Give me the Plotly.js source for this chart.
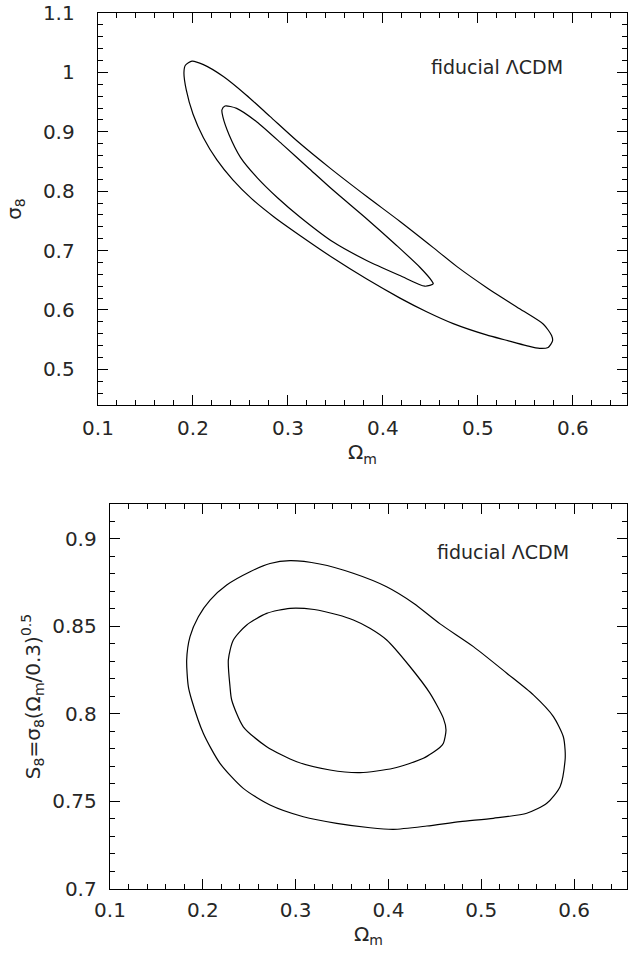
<!DOCTYPE html>
<html>
<head>
<meta charset="utf-8">
<script src="https://cdn.plot.ly/plotly-3.0.1.min.js"></script>
<style>
  html, body { margin: 0; padding: 0; background: #ffffff; }
  #chart { width: 631px; height: 953px; }
</style>
</head>
<body>
<div id="chart"></div>
<script>
// ---- Top panel: sigma_8 vs Omega_m (fiducial LCDM) ----
const topOuterOmegaM = [0.199, 0.211, 0.232, 0.256, 0.281, 0.310, 0.345, 0.383, 0.418, 0.453, 0.478, 0.509, 0.544, 0.569, 0.5776, 0.5786, 0.574, 0.565, 0.551, 0.530, 0.509, 0.474, 0.446, 0.418, 0.383, 0.348, 0.313, 0.285, 0.262, 0.242, 0.225, 0.211, 0.200, 0.193, 0.1905, 0.192, 0.199];
const topOuterSigma8 = [1.019, 1.013, 0.993, 0.962, 0.926, 0.884, 0.838, 0.791, 0.749, 0.705, 0.673, 0.638, 0.602, 0.576, 0.557, 0.548, 0.537, 0.5353, 0.540, 0.549, 0.558, 0.577, 0.597, 0.620, 0.652, 0.687, 0.725, 0.757, 0.787, 0.819, 0.853, 0.890, 0.930, 0.970, 1.000, 1.012, 1.019];

const topInnerOmegaM = [0.2337, 0.246, 0.267, 0.295, 0.321, 0.3477, 0.3828, 0.4144, 0.4389, 0.4512, 0.453, 0.4442, 0.4179, 0.3828, 0.3477, 0.3126, 0.289, 0.268, 0.250, 0.238, 0.2315, 0.2305, 0.2337];
const topInnerSigma8 = [0.9434, 0.9395, 0.917, 0.8775, 0.840, 0.8015, 0.7537, 0.7086, 0.672, 0.6495, 0.644, 0.640, 0.658, 0.6834, 0.7143, 0.7566, 0.789, 0.822, 0.857, 0.895, 0.925, 0.937, 0.9434];

// ---- Bottom panel: S_8 vs Omega_m (fiducial LCDM) ----
const botOuterOmegaM = [0.294, 0.326, 0.362, 0.398, 0.427, 0.4556, 0.4915, 0.5275, 0.5561, 0.5777, 0.5884, 0.5903, 0.5903, 0.5849, 0.5706, 0.549, 0.513, 0.4772, 0.4413, 0.4053, 0.3802, 0.3442, 0.3083, 0.2724, 0.2436, 0.2185, 0.2005, 0.188, 0.1844, 0.1826, 0.1862, 0.1952, 0.2078, 0.2257, 0.2509, 0.2724, 0.294];
const botOuterS8 = [0.8876, 0.8857, 0.8804, 0.8727, 0.8633, 0.8515, 0.8385, 0.8233, 0.8109, 0.7985, 0.787, 0.7794, 0.7737, 0.7585, 0.749, 0.7433, 0.7404, 0.7385, 0.736, 0.7341, 0.735, 0.7375, 0.7413, 0.748, 0.7575, 0.7718, 0.789, 0.808, 0.8156, 0.8309, 0.8442, 0.8556, 0.8651, 0.8737, 0.8813, 0.886, 0.8876];

const botInnerOmegaM = [0.294, 0.320, 0.345, 0.3622, 0.380, 0.3981, 0.4233, 0.4448, 0.4592, 0.462, 0.4592, 0.4556, 0.4376, 0.4053, 0.3694, 0.337, 0.3012, 0.2688, 0.2436, 0.2311, 0.2293, 0.2275, 0.2329, 0.2473, 0.2688, 0.294];
const botInnerS8 = [0.8604, 0.8597, 0.8567, 0.8537, 0.849, 0.8423, 0.827, 0.8118, 0.7975, 0.7909, 0.7833, 0.781, 0.7747, 0.769, 0.7665, 0.768, 0.7727, 0.7813, 0.7927, 0.808, 0.8156, 0.8309, 0.8423, 0.8509, 0.8575, 0.8604];

const labelText = "fiducial ΛCDM";

const FONT = "DejaVu Sans, Liberation Sans, sans-serif";
const TXT = "#262626";
const lineStyle = {color: "#000000", width: 1.2, shape: "spline", smoothing: 0.7};

function contour(x, y, xa, ya) {
  return {type: "scatter", mode: "lines", x: x, y: y, xaxis: xa, yaxis: ya,
          line: lineStyle, hoverinfo: "skip", showlegend: false};
}

const data = [
  contour(topOuterOmegaM, topOuterSigma8, "x", "y"),
  contour(topInnerOmegaM, topInnerSigma8, "x", "y"),
  contour(botOuterOmegaM, botOuterS8, "x2", "y2"),
  contour(botInnerOmegaM, botInnerS8, "x2", "y2")
];

function axisBase(extra) {
  return Object.assign({
    showline: true, linecolor: "#000000", linewidth: 1.3, mirror: "allticks",
    ticks: "inside", ticklen: 10, tickwidth: 1, tickcolor: "#000000",
    showgrid: false, zeroline: false,
    tickfont: {family: FONT, size: 20, color: TXT},
    fixedrange: true
  }, extra);
}

const layout = {
  width: 631, height: 953,
  margin: {l: 98, r: 4, t: 13, b: 64},
  paper_bgcolor: "#ffffff", plot_bgcolor: "#ffffff",
  showlegend: false,
  font: {family: FONT, color: TXT},
  xaxis: axisBase({
    domain: [0, 1], anchor: "y", range: [0.1, 0.657], tick0: 0.1, dtick: 0.1,
    minor: {dtick: 0.02, tick0: 0.1, ticks: "inside", ticklen: 5, tickcolor: "#000000"},
    ticklabelstandoff: 5,
    title: {text: "Ω<sub>m</sub>", font: {family: FONT, size: 20, color: TXT}, standoff: 2}
  }),
  yaxis: axisBase({
    domain: [0.5525, 1], anchor: "x", range: [0.44, 1.1], tick0: 0.5, dtick: 0.1,
    minor: {dtick: 0.02, tick0: 0.5, ticks: "inside", ticklen: 5, tickcolor: "#000000"},
    ticklabelstandoff: 18,
    title: {text: "σ<sub>8</sub>", font: {family: FONT, size: 20, color: TXT}, standoff: 16}
  }),
  xaxis2: axisBase({
    domain: [0.0227, 1], anchor: "y2", range: [0.1, 0.657], tick0: 0.1, dtick: 0.1,
    minor: {dtick: 0.02, tick0: 0.1, ticks: "inside", ticklen: 5, tickcolor: "#000000"},
    ticklabelstandoff: 3,
    title: {text: "Ω<sub>m</sub>", font: {family: FONT, size: 20, color: TXT}, standoff: 4}
  }),
  yaxis2: axisBase({
    domain: [0, 0.4395], anchor: "x2", range: [0.7, 0.92], tick0: 0.7, dtick: 0.05,
    minor: {dtick: 0.01, tick0: 0.7, ticks: "inside", ticklen: 5, tickcolor: "#000000"},
    ticklabelstandoff: 8,
    title: {text: "S<sub>8</sub>=σ<sub>8</sub>(Ω<sub>m</sub>/0.3)<sup>0.5</sup>", font: {family: FONT, size: 20, color: TXT}, standoff: 6}
  }),
  annotations: [
    {xref: "x", yref: "y", x: 0.520, y: 1.009, text: labelText, showarrow: false,
     xanchor: "center", yanchor: "middle", font: {family: FONT, size: 19, color: TXT}},
    {xref: "x2", yref: "y2", x: 0.5235, y: 0.8926, text: labelText, showarrow: false,
     xanchor: "center", yanchor: "middle", font: {family: FONT, size: 19, color: TXT}}
  ]
};

Plotly.newPlot("chart", data, layout, {staticPlot: true, displayModeBar: false});
</script>
</body>
</html>
